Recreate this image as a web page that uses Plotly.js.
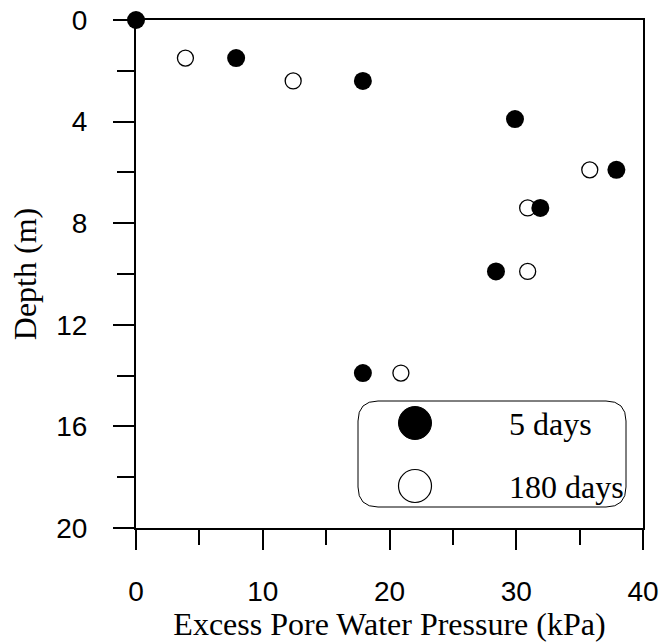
<!DOCTYPE html>
<html>
<head>
<meta charset="utf-8">
<script src="https://cdn.plot.ly/plotly-3.0.1.min.js"></script>
<style>
  html, body { margin: 0; padding: 0; background: #fff; }
  #chart { width: 664px; height: 642px; }
</style>
</head>
<body>
<div id="chart"></div>
<script>
// ---- data ----
const seriesNames = ["5 days", "180 days"];
const pressure5 = [0, 7.9, 17.9, 29.9, 37.9, 31.9, 28.4, 17.9];
const depth5 = [0, 1.5, 2.4, 3.9, 5.9, 7.4, 9.9, 13.9];
const pressure180 = [3.9, 12.4, 35.8, 30.9, 30.9, 20.9];
const depth180 = [1.5, 2.4, 5.9, 7.4, 9.9, 13.9];
const xTickVals = [0, 10, 20, 30, 40];
const yTickVals = [0, 4, 8, 12, 16, 20];
const xTitle = "Excess Pore Water Pressure (kPa)";
const yTitle = "Depth (m)";

// ---- layout geometry ----
const W = 664, H = 642;
const M = { l: 136, r: 21, t: 20, b: 114 };
const PW = W - M.l - M.r, PH = H - M.t - M.b;
const px = v => (v - M.l) / PW;
const py = v => 1 - (v - M.t) / PH;

const serif = "Liberation Serif, Times New Roman, serif";
const sans = "Liberation Sans, Arial, sans-serif";

const traces = [
  {
    type: "scatter", mode: "markers", name: seriesNames[1],
    x: pressure180, y: depth180, cliponaxis: false, showlegend: false,
    marker: { symbol: "circle", size: 16, color: "#ffffff", line: { color: "#000", width: 1.3 } }
  },
  {
    type: "scatter", mode: "markers", name: seriesNames[0],
    x: pressure5, y: depth5, cliponaxis: false, showlegend: false,
    marker: { symbol: "circle", size: 18, color: "#000000", line: { color: "#000", width: 0 } }
  }
];

// custom legend box (rounded rectangle) in paper coordinates
const bx0 = 358, bx1 = 626, by0 = 401, by1 = 507, rad = 20;
function rr(x0, y0, x1, y1, r) {
  const P = (a, b) => px(a) + "," + py(b);
  return "M" + P(x0 + r, y0) + " L" + P(x1 - r, y0) + " Q" + P(x1, y0) + " " + P(x1, y0 + r) +
    " L" + P(x1, y1 - r) + " Q" + P(x1, y1) + " " + P(x1 - r, y1) +
    " L" + P(x0 + r, y1) + " Q" + P(x0, y1) + " " + P(x0, y1 - r) +
    " L" + P(x0, y0 + r) + " Q" + P(x0, y0) + " " + P(x0 + r, y0) + " Z";
}
const legendRows = [423, 486];
const legendMarkerX = 415, legendD = 33;

const shapes = [
  { type: "path", xref: "paper", yref: "paper", path: rr(bx0, by0, bx1, by1, rad),
    line: { color: "#000", width: 1 }, fillcolor: "rgba(0,0,0,0)", layer: "above" },
  { type: "circle", xref: "paper", yref: "paper", xsizemode: "pixel", ysizemode: "pixel",
    xanchor: px(legendMarkerX), yanchor: py(legendRows[0]),
    x0: -legendD / 2, x1: legendD / 2, y0: -legendD / 2, y1: legendD / 2,
    fillcolor: "#000", line: { color: "#000", width: 1 }, layer: "above" },
  { type: "circle", xref: "paper", yref: "paper", xsizemode: "pixel", ysizemode: "pixel",
    xanchor: px(legendMarkerX), yanchor: py(legendRows[1]),
    x0: -legendD / 2, x1: legendD / 2, y0: -legendD / 2, y1: legendD / 2,
    fillcolor: "#fff", line: { color: "#000", width: 1.2 }, layer: "above" }
];

const annotations = seriesNames.map((name, i) => ({
  xref: "paper", yref: "paper", x: px(507), y: py(legendRows[i] + 1),
  xanchor: "left", yanchor: "middle", showarrow: false, text: name,
  font: { family: serif, size: 32, color: "#000" }
}));

const layout = {
  width: W, height: H,
  margin: M,
  paper_bgcolor: "#fff", plot_bgcolor: "#fff",
  showlegend: false,
  xaxis: {
    range: [0, 40], tickvals: xTickVals, ticktext: xTickVals.map(String),
    ticks: "outside", ticklen: 20, tickwidth: 2, tickcolor: "#000",
    minor: { dtick: 5, tick0: 0, ticks: "outside", ticklen: 15, tickwidth: 2, tickcolor: "#000", showgrid: false },
    showline: true, linecolor: "#000", linewidth: 2, mirror: true,
    showgrid: false, zeroline: false, fixedrange: true,
    tickfont: { family: sans, size: 28, color: "#000" },
    ticklabelstandoff: 17,
    title: { text: xTitle, font: { family: serif, size: 32, color: "#000" }, standoff: 0 },
    automargin: false
  },
  yaxis: {
    range: [20, 0], tickvals: yTickVals, ticktext: yTickVals.map(String),
    ticks: "outside", ticklen: 21, tickwidth: 2, tickcolor: "#000",
    minor: { dtick: 2, tick0: 0, ticks: "outside", ticklen: 17, tickwidth: 2, tickcolor: "#000", showgrid: false },
    showline: true, linecolor: "#000", linewidth: 2, mirror: true,
    showgrid: false, zeroline: false, fixedrange: true,
    tickfont: { family: sans, size: 28, color: "#000" },
    ticklabelstandoff: 20,
    title: { text: yTitle, font: { family: serif, size: 32, color: "#000" }, standoff: 10 },
    automargin: false
  },
  shapes: shapes,
  annotations: annotations
};

Plotly.newPlot("chart", traces, layout, { staticPlot: true, displayModeBar: false });
</script>
</body>
</html>
